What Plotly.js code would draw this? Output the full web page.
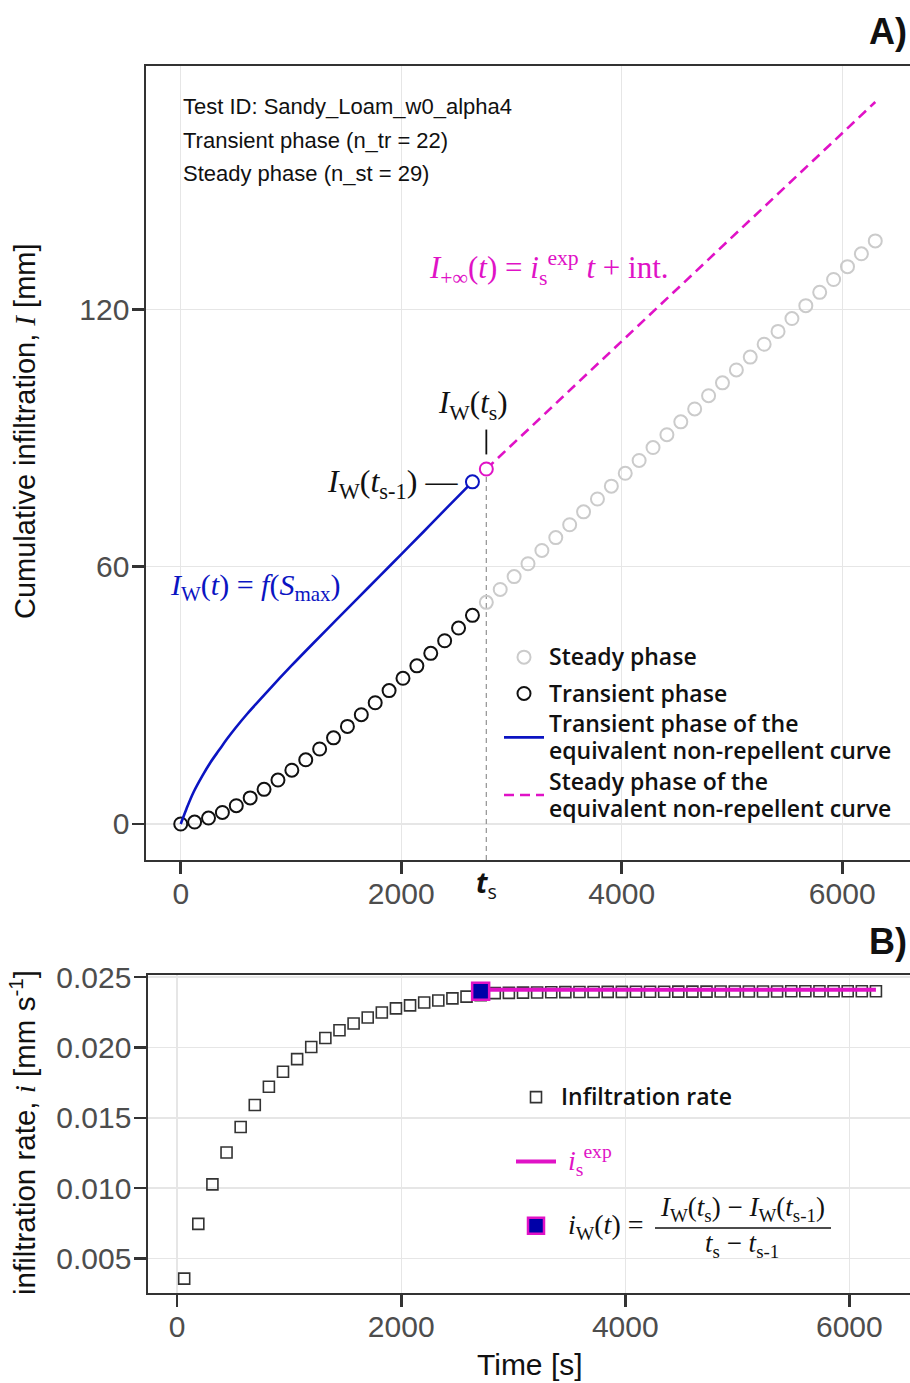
<!DOCTYPE html>
<html><head><meta charset="utf-8">
<script src="https://cdn.plot.ly/plotly-3.0.1.min.js"></script>
<style>html,body{margin:0;padding:0;overflow:hidden;background:#fff}#chart{width:925px;height:1383px}</style>
</head><body><div id="chart"></div>
<script>
// ---------- Panel A data ----------
const tTransient = [0,126,252,378,504,630,756,882,1008,1134,1260,1386,1512,1638,1764,1890,2016,2142,2268,2394,2520,2646];
const ITransient = [0,0.45,1.39,2.69,4.27,6.08,8.08,10.25,12.55,14.97,17.49,20.09,22.76,25.49,28.28,31.11,33.98,36.88,39.8,42.74,45.7,48.67];
const tSteady = [2772,2898,3024,3150,3276,3402,3528,3654,3780,3906,4032,4158,4284,4410,4536,4662,4788,4914,5040,5166,5292,5418,5544,5670,5796,5922,6048,6174,6300];
const ISteady = [51.7,54.7,57.7,60.7,63.8,66.8,69.8,72.8,75.8,78.8,81.8,84.8,87.8,90.8,93.8,96.8,99.9,102.9,105.9,108.9,111.9,114.9,117.9,120.9,124.0,127.0,130.0,133.0,136.0];
const tW = [0,50,116,200,268,350,419,500,600,800,1000,1200,1400,1600,1800,2000,2200,2400,2646];
const IW = [0,3.4,7.4,11.4,14.3,17.3,19.8,22.5,25.6,31.3,36.8,42.1,47.3,52.5,57.7,62.9,68.1,73.4,79.8];
const tS = 2772;            // t_s
const IWts = 82.8;          // I_W(t_s)
const tLine = [2772, 6300]; // steady phase of equivalent curve
const ILine = [82.8, 168.4];
const xTicksA = [0,2000,4000,6000];
const yTicksA = [0,60,120];

// ---------- Panel B data ----------
const tMid = [63,189,315,441,567,693,819,945,1071,1197,1323,1449,1575,1701,1827,1953,2079,2205,2331,2457,2583,2709,2835,2961,3087,3213,3339,3465,3591,3717,3843,3969,4095,4221,4347,4473,4599,4725,4851,4977,5103,5229,5355,5481,5607,5733,5859,5985,6111,6237];
const rate = [0.00357,0.00746,0.01027,0.01254,0.01435,0.01591,0.01721,0.01827,0.01917,0.02003,0.02067,0.02122,0.02170,0.02213,0.02248,0.02278,0.02299,0.02320,0.02334,0.02349,0.02361,0.02372,
0.02386,0.02388,0.02390,0.02391,0.02392,0.02393,0.02394,0.02394,0.02395,0.02395,0.02396,0.02396,0.02396,0.02397,0.02397,0.02397,0.02398,0.02398,0.02398,0.02398,0.02398,0.02399,0.02399,0.02399,0.02399,0.02399,0.02399,0.02400];
const isExp = 0.0241;
const iWval = 0.0240;
const xTicksB = [0,2000,4000,6000];
const yTicksB = [0.005,0.010,0.015,0.020,0.025];
const yTickTextB = ['0.005','0.010','0.015','0.020','0.025'];

// ---------- styling ----------
const W = 925, H = 1383;
const px = x => x / W, py = y => 1 - y / H;
const SERIF = 'Liberation Serif, Times New Roman, serif';
const SANS = 'Liberation Sans, Arial, sans-serif';
const LEG = 'Open Sans, Noto Sans, sans-serif';
const BLUE = '#0b14c2', MAG = '#e012c6';
const rangeA_y = [-8.4, 176.8];
const big = s => '<span style="font-size:23px">' + s + '</span>';
const NB = '\u00a0';

const traces = [
  {x:[tS,tS], y:[rangeA_y[0], IWts], mode:'lines', line:{color:'#9a9a9a', width:1.3, dash:'5px,4px'}, showlegend:false, hoverinfo:'skip'},
  {x:tSteady, y:ISteady, mode:'markers', name:big('Steady phase'), legendgroup:'g1',
   marker:{symbol:'circle-open', size:13, color:'#cbcbcb', line:{width:2}}},
  {x:tTransient, y:ITransient, mode:'markers', name:big('Transient phase'), legendgroup:'g2',
   marker:{symbol:'circle-open', size:13, color:'#111111', line:{width:2}}},
  {x:tW, y:IW, mode:'lines', name:big('Transient phase of the') + '<br>' + big('equivalent non-repellent curve'), legendgroup:'g2',
   line:{color:BLUE, width:2.6, shape:'spline', smoothing:1}},
  {x:tLine, y:ILine, mode:'lines', name:big('Steady phase of the') + '<br>' + big('equivalent non-repellent curve'), legendgroup:'g2',
   line:{color:MAG, width:2.6, dash:'10px,6px'}},
  {x:[tW[tW.length-1]], y:[IW[IW.length-1]], mode:'markers', showlegend:false,
   marker:{symbol:'circle', size:13, color:'#ffffff', line:{color:BLUE, width:2}}},
  {x:[tS], y:[IWts], mode:'markers', showlegend:false,
   marker:{symbol:'circle', size:13, color:'#ffffff', line:{color:MAG, width:2}}},
  // panel B
  {x:tMid, y:rate, xaxis:'x2', yaxis:'y2', mode:'markers', name:big('Infiltration rate'), legend:'legend2', legendgroup:'h1',
   marker:{symbol:'square-open', size:11, color:'#333333', line:{width:1.6}}},
  {x:[tMid[21], tMid[49]], y:[isExp, isExp], xaxis:'x2', yaxis:'y2', mode:'lines', legend:'legend2', legendgroup:'h2',
   name:'<span style="font-family:Liberation Serif;font-weight:400;color:'+MAG+';font-size:28px">' + NB + '<i>i</i><sub>s</sub><sup>exp</sup></span>',
   line:{color:MAG, width:4}},
  {x:[tMid[21]], y:[iWval], xaxis:'x2', yaxis:'y2', mode:'markers', legend:'legend2', legendgroup:'h3',
   name:'<span style="font-family:Liberation Serif;font-weight:400;font-size:28px">' + NB + '<i>i</i><sub>W</sub>(<i>t</i>) =</span>',
   marker:{symbol:'square', size:17, color:'#0000a8', line:{color:MAG, width:2.5}}}
];

const axisCommon = {
  showline:true, mirror:true, linecolor:'#333', linewidth:1.6,
  ticks:'outside', ticklen:12, tickwidth:2.6, tickcolor:'#333',
  showgrid:true, gridcolor:'#e6e6e6', gridwidth:1.4, zeroline:false,
  tickfont:{family:SANS, size:30, color:'#4d4d4d'}, automargin:false, fixedrange:true
};

const ann = (o) => Object.assign({showarrow:false}, o);
const annotations = [
  ann({xref:'x', yref:'y', x:0, y:167.3, xanchor:'left', yanchor:'middle', text:'Test ID: Sandy_Loam_w0_alpha4', font:{family:SANS, size:22, color:'#111'}}),
  ann({xref:'x', yref:'y', x:0, y:159.4, xanchor:'left', yanchor:'middle', text:'Transient phase (n_tr = 22)', font:{family:SANS, size:22, color:'#111'}}),
  ann({xref:'x', yref:'y', x:0, y:151.7, xanchor:'left', yanchor:'middle', text:'Steady phase (n_st = 29)', font:{family:SANS, size:22, color:'#111'}}),
  ann({xref:'x', yref:'y', x:2234, y:129.8, xanchor:'left', yanchor:'middle',
       text:'<i>I</i><sub>+∞</sub>(<i>t</i>) = <i>i</i><sub>s</sub><sup>exp</sup> <i>t</i> + int.', font:{family:SERIF, size:31, color:MAG}}),
  ann({xref:'x', yref:'y', x:2651, y:97.7, xanchor:'center', yanchor:'middle',
       text:'<i>I</i><sub>W</sub>(<i>t</i><sub>s</sub>)', font:{family:SERIF, size:31, color:'#111'}}),
  ann({xref:'x', yref:'y', x:2533, y:79.4, xanchor:'right', yanchor:'middle',
       text:'<i>I</i><sub>W</sub>(<i>t</i><sub>s-1</sub>) —', font:{family:SERIF, size:32, color:'#111'}}),
  ann({xref:'x', yref:'y', x:-115, y:55.2, xanchor:'left', yanchor:'middle',
       text:'<i>I</i><sub>W</sub>(<i>t</i>) = <i>f</i>(<i>S</i><sub>max</sub>)', font:{family:SERIF, size:30, color:BLUE}}),
  ann({xref:'x', yref:'paper', x:tS, y:py(884), xanchor:'center', yanchor:'middle',
       text:'<b><i>t</i></b><sub>s</sub>', font:{family:LEG, size:28, color:'#111'}}),
  ann({xref:'paper', yref:'paper', x:px(25), y:py(431), xanchor:'center', yanchor:'middle', textangle:-90,
       text:'Cumulative infiltration, <span style="font-family:Liberation Serif"><i>I</i></span> [mm]', font:{family:SANS, size:29, color:'#111'}}),
  ann({xref:'paper', yref:'paper', x:px(22), y:py(1133), xanchor:'center', yanchor:'middle', textangle:-90,
       text:'infiltration rate, <span style="font-family:Liberation Serif"><i>i</i></span> [mm s<sup>-1</sup>]', font:{family:SANS, size:29.5, color:'#111'}}),
  ann({xref:'paper', yref:'paper', x:px(530), y:py(1364), xanchor:'center', yanchor:'middle',
       text:'Time [s]', font:{family:SANS, size:30, color:'#111'}}),
  ann({xref:'paper', yref:'paper', x:px(867), y:py(32), xanchor:'left', yanchor:'middle',
       text:'<b>A)</b>', font:{family:SANS, size:36, color:'#111'}}),
  ann({xref:'paper', yref:'paper', x:px(867), y:py(941), xanchor:'left', yanchor:'middle',
       text:'<b>B)</b>', font:{family:SANS, size:36, color:'#111'}}),
  ann({xref:'paper', yref:'paper', x:px(742), y:py(1209), xanchor:'center', yanchor:'middle',
       text:'<i>I</i><sub>W</sub>(<i>t</i><sub>s</sub>) − <i>I</i><sub>W</sub>(<i>t</i><sub>s-1</sub>)', font:{family:SERIF, size:27, color:'#111'}}),
  ann({xref:'paper', yref:'paper', x:px(742), y:py(1245), xanchor:'center', yanchor:'middle',
       text:'<i>t</i><sub>s</sub> − <i>t</i><sub>s-1</sub>', font:{family:SERIF, size:27, color:'#111'}})
];

const shapes = [
  {type:'line', xref:'x', yref:'y', x0:tS, x1:tS, y0:86.2, y1:92.0, line:{color:'#111', width:1.8}},
  {type:'line', xref:'paper', yref:'paper', x0:px(655), x1:px(831), y0:py(1228), y1:py(1228), line:{color:'#111', width:1.6}}
];

const layout = {
  width:W, height:H, margin:{l:0, r:0, t:0, b:0},
  paper_bgcolor:'#fff', plot_bgcolor:'#fff', showlegend:true,
  xaxis:Object.assign({}, axisCommon, {domain:[px(146), px(910)], range:[-315, 6615], anchor:'y', tickvals:xTicksA, ticklabelstandoff:-6}),
  yaxis:Object.assign({}, axisCommon, {domain:[py(860), py(66)], range:rangeA_y, anchor:'x', tickvals:yTicksA, ticklabelstandoff:-3}),
  xaxis2:Object.assign({}, axisCommon, {domain:[px(148), px(911)], range:[-260, 6550], anchor:'y2', tickvals:xTicksB, ticklabelstandoff:-6}),
  yaxis2:Object.assign({}, axisCommon, {domain:[py(1293), py(975)], range:[0.00255, 0.02515], anchor:'x2', tickvals:yTicksB, ticktext:yTickTextB, ticklabelstandoff:-3}),
  legend:{x:px(499), y:py(637), xanchor:'left', yanchor:'top', bgcolor:'rgba(0,0,0,0)', borderwidth:0,
          font:{family:LEG, size:21, weight:600, color:'#111'}, itemwidth:40, traceorder:'grouped', tracegroupgap:6},
  legend2:{x:px(511), y:py(1077), xanchor:'left', yanchor:'top', bgcolor:'rgba(0,0,0,0)', borderwidth:0,
          font:{family:LEG, size:21, weight:600, color:'#111'}, itemwidth:40, traceorder:'grouped', tracegroupgap:34},
  annotations:annotations, shapes:shapes
};

Plotly.newPlot('chart', traces, layout, {displayModeBar:false, staticPlot:true});
</script>
</body></html>
